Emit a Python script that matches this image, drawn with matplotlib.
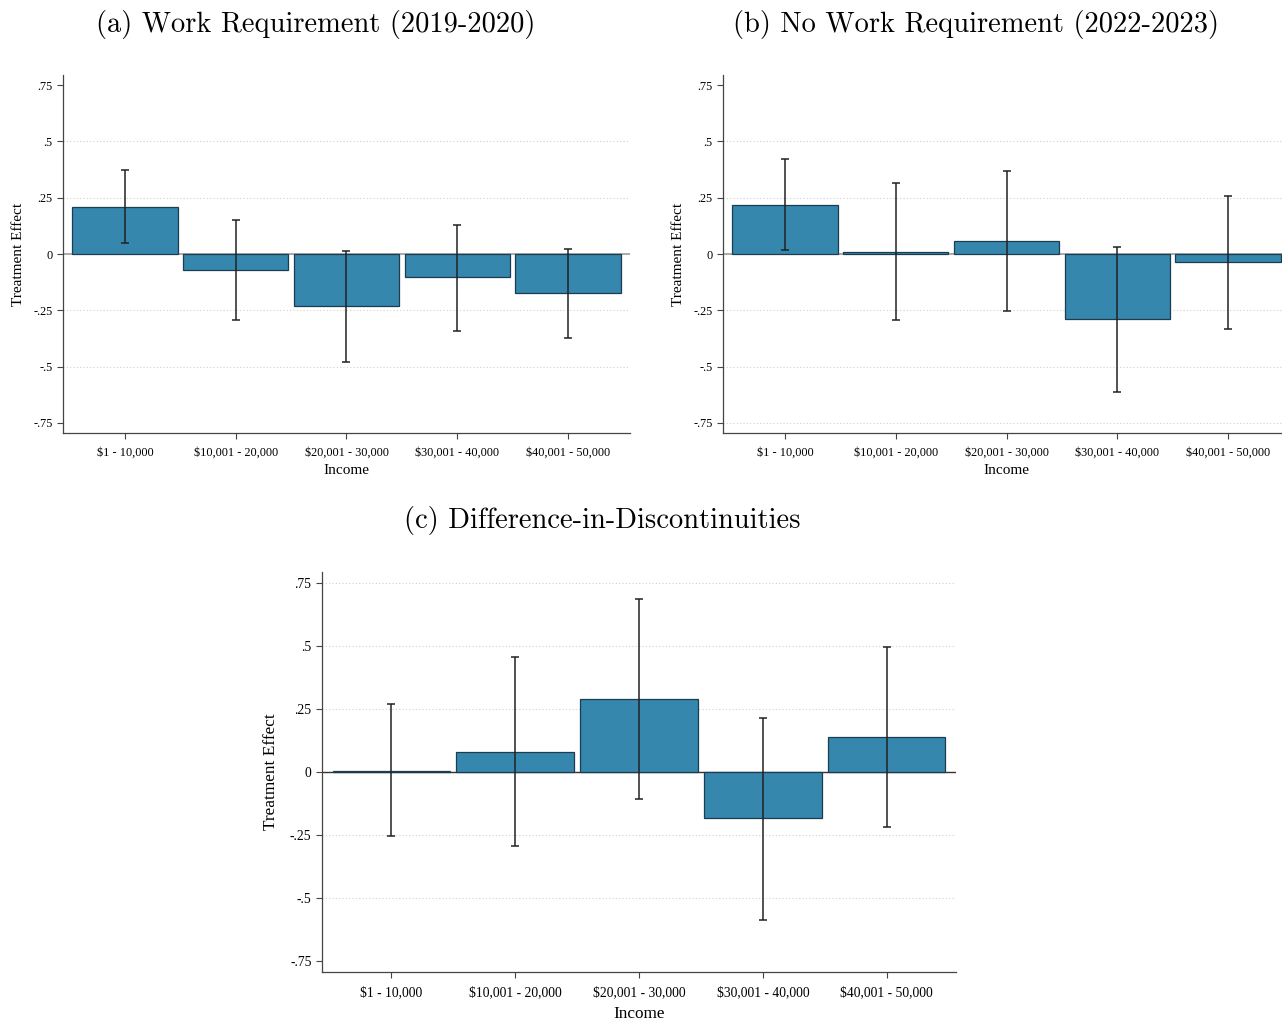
import matplotlib.pyplot as plt

income = ['$1 - 10,000', '$10,001 - 20,000', '$20,001 - 30,000',
          '$30,001 - 40,000', '$40,001 - 50,000']

# point estimates and 95% confidence bounds per income bin
work_est = [0.210, -0.069, -0.232, -0.104, -0.175]
work_lo = [0.049, -0.291, -0.479, -0.340, -0.375]
work_hi = [0.375, 0.152, 0.013, 0.131, 0.024]

nowork_est = [0.219, 0.009, 0.057, -0.290, -0.035]
nowork_lo = [0.018, -0.291, -0.251, -0.613, -0.331]
nowork_hi = [0.424, 0.315, 0.371, 0.031, 0.259]

did_est = [0.005, 0.081, 0.290, -0.184, 0.138]
did_lo = [-0.253, -0.295, -0.106, -0.587, -0.218]
did_hi = [0.270, 0.458, 0.689, 0.214, 0.497]

yticks = [0.75, 0.5, 0.25, 0, -0.25, -0.5, -0.75]
ytick_labels = ['.75', '.5', '.25', '0', '-.25', '-.5', '-.75']

BAR = '#3587ad'
EDGE = '#1c3d4f'
SERIF = 'Liberation Serif'


def draw_panel(ax, est, lo, hi, grid_at, zero_color, zero_lw, tick_fs, label_fs, ypad, xpad):
    x = list(range(1, len(est) + 1))
    for g in grid_at:
        ax.axhline(g, color='#d0d0d0', lw=0.8, ls=(0, (1, 2)), zorder=0)
    ax.axhline(0, color=zero_color, lw=zero_lw, zorder=1)
    ax.bar(x, est, width=0.95, color=BAR, edgecolor=EDGE, linewidth=0.9, zorder=2)
    yerr = [[e - l for e, l in zip(est, lo)], [h - e for e, h in zip(est, hi)]]
    ax.errorbar(x, est, yerr=yerr, fmt='none', ecolor='#222222', elinewidth=1.1,
                capsize=3, capthick=1.1, zorder=3)
    ax.set_xlim(0.44, 5.56)
    ax.set_ylim(-0.795, 0.795)
    ax.set_yticks(yticks)
    ax.set_yticklabels(ytick_labels, fontfamily=SERIF, fontsize=tick_fs)
    ax.set_xticks(x)
    ax.set_xticklabels(income, fontfamily=SERIF, fontsize=tick_fs)
    ax.tick_params(axis='both', direction='out', length=4, width=0.8, color='#444444')
    ax.tick_params(axis='x', pad=6)
    ax.set_ylabel('Treatment Effect', fontfamily=SERIF, fontsize=label_fs, labelpad=ypad)
    ax.set_xlabel('Income', fontfamily=SERIF, fontsize=label_fs, labelpad=xpad)
    for side in ('top', 'right'):
        ax.spines[side].set_visible(False)
    for side in ('left', 'bottom'):
        ax.spines[side].set_color('#444444')
        ax.spines[side].set_linewidth(0.9)


fig = plt.figure(figsize=(12.82, 10.21), dpi=100)

ax_a = fig.add_axes([0.0491, 0.5759, 0.4423, 0.3506])
draw_panel(ax_a, work_est, work_lo, work_hi, [0.5, 0.25, -0.25, -0.5],
           '#aaaaaa', 1.4, 8.8, 11, 6, 3.5)

ax_b = fig.add_axes([0.5640, 0.5759, 0.4423, 0.3506])
draw_panel(ax_b, nowork_est, nowork_lo, nowork_hi, [0.5, 0.25, -0.25, -0.5, -0.75],
           '#aaaaaa', 1.4, 8.8, 11, 6, 3.5)

ax_c = fig.add_axes([0.2512, 0.0480, 0.4945, 0.3918])
draw_panel(ax_c, did_est, did_lo, did_hi, [0.75, 0.5, 0.25, -0.25, -0.5],
           '#333333', 1.0, 9.8, 12.4, 8, 5)

fig.text(0.246, 0.976, '(a) Work Requirement (2019-2020)', fontfamily='cmr10',
         fontsize=20.5, ha='center', va='center')
fig.text(0.761, 0.976, '(b) No Work Requirement (2022-2023)', fontfamily='cmr10',
         fontsize=20.5, ha='center', va='center')
fig.text(0.470, 0.490, '(c) Difference-in-Discontinuities', fontfamily='cmr10',
         fontsize=20.5, ha='center', va='center')

fig.savefig('out.png', dpi=100)
